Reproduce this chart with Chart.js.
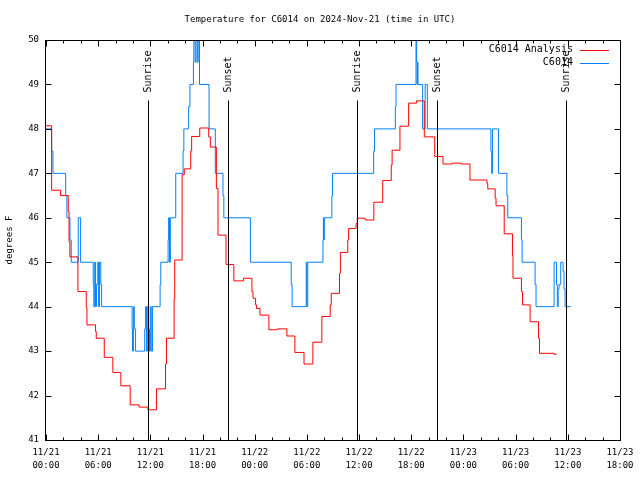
<!DOCTYPE html>
<html>
<head>
<meta charset="utf-8">
<script src="https://cdn.jsdelivr.net/npm/chart.js@4.4.1/dist/chart.umd.min.js"></script>
<style>
  html, body { margin: 0; padding: 0; background: #fff; }
  #myChart { display: block; }
</style>
</head>
<body>
<canvas id="myChart" width="640" height="480"></canvas>
<script>
// hours after 11/21 00:00 UTC, values in degrees F
const chartTitle = 'Temperature for C6014 on 2024-Nov-21 (time in UTC)';

const analysisHours = [0, 0.65, 1.68, 2.56, 2.65, 2.75, 3.67, 4.63, 4.71, 5.7, 5.78, 6.7, 7.69, 8.61, 9.68, 10.71,
  11.71, 12.7, 13.74, 13.85, 14.73, 14.8, 15.65, 15.9, 16.64, 16.75, 17.68, 18.71, 18.9, 19.59, 19.78, 20.7,
  21.6, 22.73, 23.68, 23.8, 24.1, 24.2, 24.6, 25.63, 26.6, 27.7, 28.62, 29.67, 30.69, 31.72, 32.68, 32.8,
  33.75, 33.85, 34.7, 34.8, 35.66, 35.8, 36.7, 37.7, 38.72, 39.7, 39.8, 40.7, 41.7, 42.6, 43.5, 44.7,
  45.65, 46.76, 47.71, 48.75, 50.7, 50.8, 51.65, 51.75, 52.69, 53.64, 53.7, 54.67, 54.8, 55.67, 56.63, 56.75,
  58.43, 58.73];
const analysisTemps = [48.07, 46.62, 46.5, 46.14, 45.46, 45.12, 44.34, 43.98, 43.59, 43.44, 43.29, 42.86, 42.52, 42.22, 41.79, 41.74,
  41.68, 42.15, 42.71, 43.29, 44.17, 45.05, 46.97, 47.1, 47.5, 47.83, 48.02, 47.82, 47.59, 46.66, 45.61, 44.95,
  44.58, 44.64, 44.34, 44.19, 44.04, 43.96, 43.81, 43.48, 43.5, 43.34, 42.97, 42.71, 43.2, 43.78, 44.04, 44.3,
  44.75, 45.22, 45.5, 45.76, 45.87, 45.99, 45.95, 46.35, 46.84, 47.19, 47.52, 48.06, 48.58, 48.63, 47.82, 47.38,
  47.21, 47.23, 47.21, 46.85, 46.78, 46.65, 46.44, 46.27, 45.64, 45.15, 44.64, 44.34, 44.04, 43.66, 43.29, 42.95,
  42.93, 42.93];

const obsHours = [0, 0.65, 0.8, 2.26, 2.4, 2.75, 2.9, 3.71, 3.98, 5.43, 5.5, 5.6, 5.7, 5.8, 5.95, 6.05, 6.15, 6.3, 6.4,
  9.9, 9.95, 10.05, 10.15, 10.3, 11.35, 11.45, 11.55, 11.65, 11.8, 11.9, 12.0, 12.1, 12.24, 13.12, 13.2,
  14.04, 14.1, 14.2, 14.3, 14.92, 15.76, 15.85, 16.4, 16.55, 16.95, 17.0, 17.15, 17.25, 17.4, 17.5, 17.65,
  18.75, 19.47, 20.35, 20.45, 23.5, 28.2, 28.3, 29.92, 30.0, 30.1, 31.85, 31.9, 31.95, 32.0, 32.87, 32.95,
  37.68, 37.78, 40.17, 40.25, 42.55, 42.62, 42.68, 42.72, 42.78, 43.31, 43.6, 43.85, 51.16, 51.25, 51.35,
  52.03, 53.0, 53.1, 54.67, 54.75, 56.24, 56.35, 58.43, 58.7, 58.8, 58.9, 59.0, 59.19, 59.46, 59.57, 59.69, 60.34];
const obsTemps = [48, 47.5, 47, 46.5, 46, 45.5, 45, 46, 45, 44.5, 44, 45, 44, 44.5, 45, 44, 45, 44.5, 44,
  43.5, 43, 44, 43.5, 43, 43.5, 44, 43, 44, 43.5, 43, 44, 43, 44, 44.5, 45,
  45.5, 46, 45, 46, 47, 47.5, 48, 48.5, 49, 49.5, 50.3, 49.5, 50.3, 49.5, 50.3, 49,
  48, 47, 46.5, 46, 45, 44.5, 44, 45, 44, 45, 45.5, 46, 45.5, 46, 46.5, 47,
  47.5, 48, 48.5, 49, 50.3, 49.5, 49, 49.5, 49, 48, 49, 48, 47.5, 47, 48,
  47, 46.5, 46, 45.5, 45, 44.5, 44, 45, 44.5, 44, 44.4, 44.5, 45, 44.8, 44.4, 44, 44];

const sunHours = [11.75, 20.93, 35.75, 44.93, 59.8];
const sunLabels = ['Sunrise', 'Sunset', 'Sunrise', 'Sunset', 'Sunrise'];

const tickDays = ['11/21', '11/21', '11/21', '11/21', '11/22', '11/22', '11/22', '11/22', '11/23', '11/23', '11/23', '11/23'];
const tickTimes = ['00:00', '06:00', '12:00', '18:00', '00:00', '06:00', '12:00', '18:00', '00:00', '06:00', '12:00', '18:00'];

const mono = "'DejaVu Sans Mono', monospace";

const crisp = v => Math.round(v) + 0.5;

// gnuplot style frame: title, border, inward ticks, sun markers, key
const gnuplotFrame = {
  id: 'gnuplotFrame',
  afterDatasetsDraw(chart) {
    const {ctx, chartArea: a, scales: {x, y}} = chart;
    const L = crisp(a.left) - 1, R = crisp(a.right), T = crisp(a.top), B = crisp(a.bottom);
    ctx.save();
    ctx.fillStyle = '#000';
    ctx.font = '9px ' + mono;
    ctx.textAlign = 'center';
    ctx.textBaseline = 'middle';
    ctx.fillText(chartTitle, chart.width / 2, 19.5);

    ctx.strokeStyle = '#000';
    ctx.lineWidth = 1;
    ctx.beginPath();
    for (let v = 41; v <= 50; v++) {
      const py = crisp(y.getPixelForValue(v));
      ctx.moveTo(L, py); ctx.lineTo(L + 6, py);
      ctx.moveTo(R, py); ctx.lineTo(R - 6, py);
    }
    for (let h = 0; h <= 66; h += 2) {
      const px = crisp(x.getPixelForValue(h));
      const len = h % 6 === 0 ? 6 : 3;
      ctx.moveTo(px, B); ctx.lineTo(px, B - len);
      ctx.moveTo(px, T); ctx.lineTo(px, T + len);
    }
    ctx.stroke();

    // sunrise / sunset markers
    const top = crisp(y.getPixelForValue(41 + 0.85 * 9));
    ctx.font = '10px ' + mono;
    sunHours.forEach((h, i) => {
      const px = crisp(x.getPixelForValue(h));
      ctx.beginPath();
      ctx.moveTo(px, B); ctx.lineTo(px, top);
      ctx.stroke();
      ctx.save();
      ctx.translate(px, top - 8);
      ctx.rotate(-Math.PI / 2);
      ctx.textAlign = 'left';
      ctx.textBaseline = 'middle';
      ctx.fillText(sunLabels[i], 0, 0);
      ctx.restore();
    });

    // key
    chart.data.datasets.forEach((ds, i) => {
      const ky = a.top + 9.5 + i * 13;
      ctx.textAlign = 'right';
      ctx.textBaseline = 'middle';
      ctx.fillText(ds.label, a.right - 47, ky);
      ctx.strokeStyle = ds.borderColor;
      ctx.beginPath();
      ctx.moveTo(a.right - 40, crisp(ky)); ctx.lineTo(a.right - 11, crisp(ky));
      ctx.stroke();
    });

    // border
    ctx.strokeStyle = '#000';
    ctx.strokeRect(L, T, R - L, B - T);
    ctx.restore();
  }
};

const ctx = document.getElementById('myChart').getContext('2d');
new Chart(ctx, {
  type: 'line',
  data: {
    datasets: [
      {
        label: 'C6014 Analysis',
        data: analysisHours.map((h, i) => ({x: h, y: analysisTemps[i]})),
        borderColor: '#ff0000',
        borderWidth: 1,
        pointRadius: 0,
        stepped: 'before',
        fill: false
      },
      {
        label: 'C6014',
        data: obsHours.map((h, i) => ({x: h, y: obsTemps[i]})),
        borderColor: '#0080ff',
        borderWidth: 1,
        pointRadius: 0,
        stepped: 'before',
        fill: false
      }
    ]
  },
  options: {
    responsive: false,
    animation: false,
    devicePixelRatio: 1,
    layout: {padding: {top: 40, right: 19, bottom: 0, left: 0}},
    plugins: {
      legend: {display: false},
      tooltip: {enabled: false},
      title: {display: false}
    },
    scales: {
      x: {
        type: 'linear',
        min: 0,
        max: 66,
        afterFit: s => { s.height = 40; },
        grid: {display: false, drawTicks: false},
        border: {display: false},
        ticks: {
          stepSize: 6,
          autoSkip: false,
          maxRotation: 0,
          padding: 6.5,
          color: '#000',
          font: {family: mono, size: 9, lineHeight: 1.45},
          callback: v => [tickDays[v / 6], tickTimes[v / 6]]
        }
      },
      y: {
        min: 41,
        max: 50,
        afterFit: s => { s.width = 46; },
        grid: {display: false, drawTicks: false},
        border: {display: false},
        ticks: {stepSize: 1, padding: 7, color: '#000', font: {family: mono, size: 9}},
        title: {
          display: true,
          text: 'degrees F',
          color: '#000',
          font: {family: mono, size: 9},
          padding: {top: 4.6, bottom: 0}
        }
      }
    }
  },
  plugins: [gnuplotFrame]
});
</script>
</body>
</html>
